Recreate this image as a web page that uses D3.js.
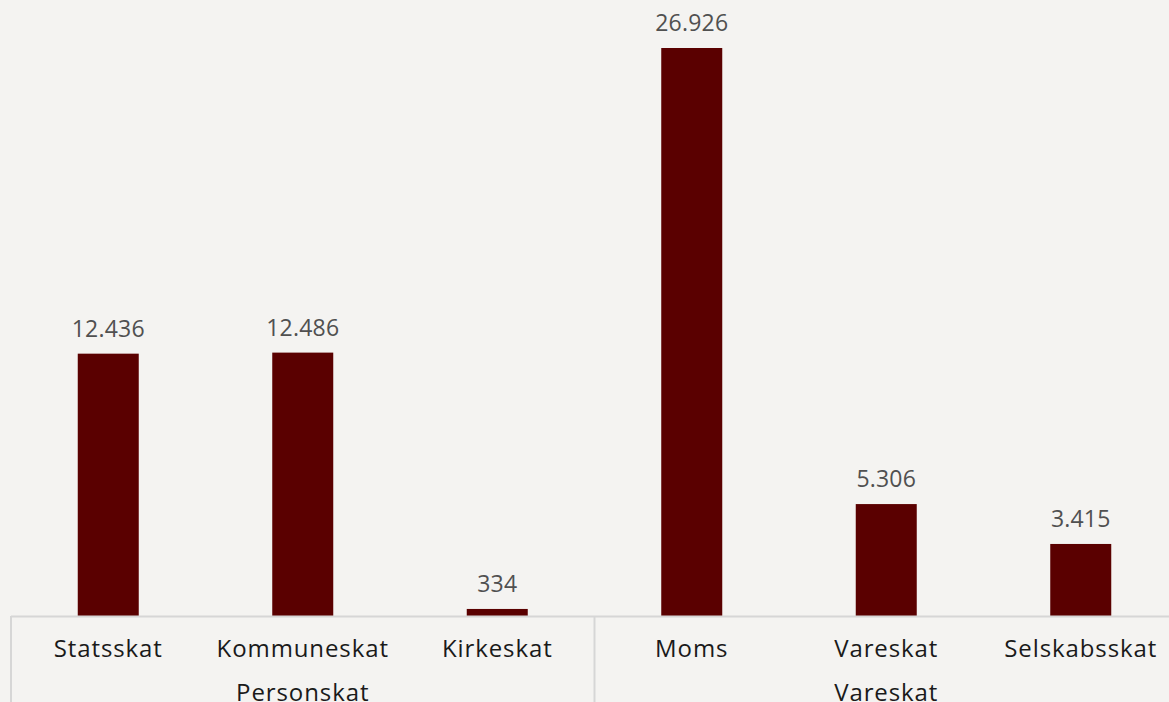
<!DOCTYPE html>
<html><head><meta charset="utf-8">
<script src="https://cdn.jsdelivr.net/npm/d3@7"></script>
<style>
html,body{margin:0;padding:0;background:#f4f3f1;overflow:hidden;}
svg{display:block;font-family:"Open Sans",sans-serif;}
</style></head>
<body>
<script>
const categories = ["Statsskat","Kommuneskat","Kirkeskat","Moms","Vareskat","Selskabsskat"];
const groups = ["Personskat","Personskat","Personskat","Vareskat","Vareskat","Vareskat"];
const values = [12436,12486,334,26926,5306,3415];
const labels = ["12.436","12.486","334","26.926","5.306","3.415"];

const W = 1169, H = 702;
const svg = d3.select("body").append("svg").attr("width", W).attr("height", H);
svg.append("rect").attr("width", W).attr("height", H).attr("fill", "#f4f3f1");

const left = 11, step = 194.5, baseY = 616;
const x = d3.scaleBand().domain(categories).range([left, left + step * categories.length]).paddingInner(0.3136).paddingOuter(0.1568);
const y = d3.scaleLinear().domain([0, 26926]).range([baseY, 48]);
const cx = d => x(d) + x.bandwidth()/2;
const bw = 61;

svg.selectAll("rect.bar").data(categories).join("rect")
  .attr("class","bar")
  .attr("x", d => cx(d) - bw/2)
  .attr("y", (d,i) => y(values[i]))
  .attr("width", bw)
  .attr("height", (d,i) => baseY - y(values[i]))
  .attr("fill", "#5a0000");

svg.selectAll("text.val").data(categories).join("text")
  .attr("class","val")
  .attr("x", d => cx(d))
  .attr("y", (d,i) => y(values[i]) - 17)
  .attr("text-anchor","middle")
  .attr("font-size", 23)
  .attr("letter-spacing", 0.2)
  .attr("fill", "#505050")
  .text((d,i) => labels[i]);

// axis lines
const lineColor = "#d6d6d6";
svg.append("line").attr("x1", left).attr("x2", W).attr("y1", baseY+0.5).attr("y2", baseY+0.5).attr("stroke", lineColor).attr("stroke-width", 2);
const groupNames = Array.from(new Set(groups));
const bounds = [0];
groupNames.forEach(g => bounds.push(groups.lastIndexOf(g) + 1));
bounds.forEach(b => {
  const xx = left + step*b;
  svg.append("line").attr("x1", xx).attr("x2", xx).attr("y1", baseY).attr("y2", H).attr("stroke", lineColor).attr("stroke-width", 2);
});

svg.selectAll("text.cat").data(categories).join("text")
  .attr("class","cat")
  .attr("x", d => cx(d))
  .attr("y", 657)
  .attr("text-anchor","middle")
  .attr("font-size", 24)
  .attr("letter-spacing", 0.9)
  .attr("fill", "#1a1a1a")
  .text(d => d);

groupNames.forEach(g => {
  const i0 = groups.indexOf(g), i1 = groups.lastIndexOf(g);
  svg.append("text")
    .attr("x", (cx(categories[i0]) + cx(categories[i1]))/2)
    .attr("y", 701)
    .attr("text-anchor","middle")
    .attr("font-size", 24)
    .attr("letter-spacing", 0.9)
    .attr("fill", "#1a1a1a")
    .text(g);
});
</script>
</body></html>
